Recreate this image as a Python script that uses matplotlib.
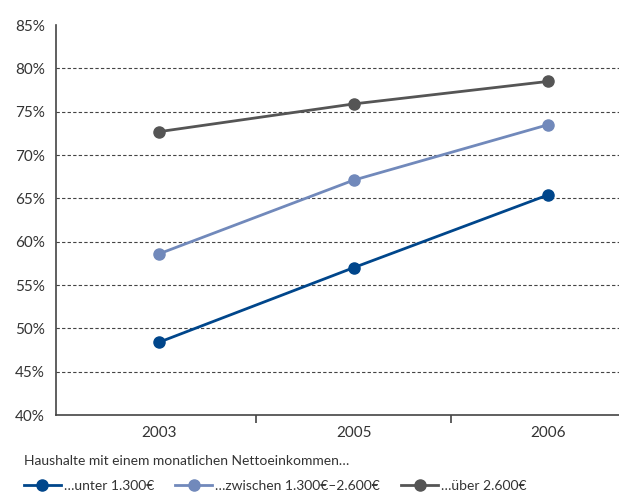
import matplotlib
matplotlib.use("Agg")
import matplotlib.pyplot as plt
from matplotlib.ticker import FixedLocator

years = ["2003", "2005", "2006"]
unter_1300 = [48.4, 57.0, 65.4]
zwischen_1300_2600 = [58.6, 67.1, 73.5]
ueber_2600 = [72.7, 75.9, 78.5]

series_labels = ["…unter 1.300€", "…zwischen 1.300€–2.600€", "…über 2.600€"]
series_colors = ["#00468b", "#7189bb", "#555555"]
legend_title = "Haushalte mit einem monatlichen Nettoeinkommen…"

plt.rcParams["font.family"] = ["Lato", "DejaVu Sans"]
text_color = "#333333"

fig = plt.figure(figsize=(6.19, 4.92), dpi=100)
ax = fig.add_axes([0.0905, 0.1565, 0.9095, 0.7925])

x = list(range(len(years)))
for values, label, color in zip([unter_1300, zwischen_1300_2600, ueber_2600],
                                series_labels, series_colors):
    ax.plot(x, values, color=color, linewidth=2, marker="o", markersize=8,
            label=label, zorder=3)

ax.set_ylim(40, 85)
ax.set_yticks(range(40, 86, 5))
ax.set_yticklabels([f"{v}%" for v in range(40, 86, 5)])
ax.set_xlim(-0.53, 2.365)
ax.set_xticks(x)
ax.set_xticklabels(years)
ax.xaxis.set_minor_locator(FixedLocator([0.5, 1.5]))
ax.tick_params(axis="x", which="major", length=0, pad=8, labelsize=11, labelcolor=text_color)
ax.tick_params(axis="x", which="minor", length=6, width=1.2, direction="out", color="#444444")
ax.tick_params(axis="y", length=0, pad=8, labelsize=11, labelcolor=text_color)

for v in range(45, 85, 5):
    ax.axhline(v, color="#444444", linewidth=0.8, linestyle=(0, (3, 2)), zorder=1)

for side in ["top", "right"]:
    ax.spines[side].set_visible(False)
for side in ["left", "bottom"]:
    ax.spines[side].set_color("#444444")
    ax.spines[side].set_linewidth(1.2)

handles, labels = ax.get_legend_handles_labels()
leg = fig.legend(handles, labels, loc="lower left", bbox_to_anchor=(0.025, -0.016),
                 ncol=3, frameon=False, title=legend_title, alignment="left",
                 fontsize=10, title_fontsize=10, handlelength=2.66,
                 handletextpad=0.2, columnspacing=1.55, borderaxespad=0.2)
leg._legend_box.sep = 9
for text in leg.get_texts():
    text.set_color(text_color)
leg.get_title().set_color(text_color)

fig.savefig("out.png", dpi=100)
